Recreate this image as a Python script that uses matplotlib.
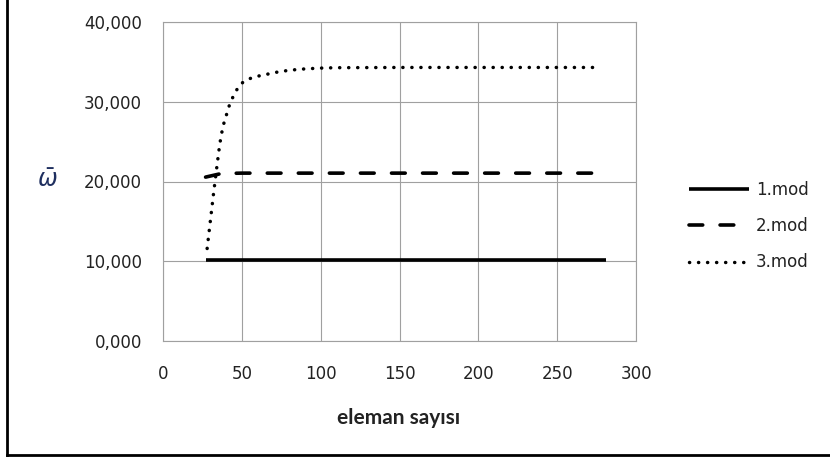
import matplotlib as mpl
import matplotlib.pyplot as plt
from matplotlib.lines import Line2D
from matplotlib.ticker import FuncFormatter

# eleman sayısı vs. normalised frequency for the first three modes
x_mod1 = [27, 50, 100, 150, 200, 250, 281]
y_mod1 = [10.15, 10.15, 10.15, 10.15, 10.15, 10.15, 10.15]

x_mod2 = [27, 37, 50, 100, 150, 200, 250, 276]
y_mod2 = [20.55, 21.0, 21.05, 21.05, 21.05, 21.05, 21.05, 21.05]

x_mod3 = [28, 30, 32, 34, 36, 38, 40, 42, 45, 48, 51, 55, 60, 66, 72, 80,
          90, 100, 110, 150, 200, 250, 276]
y_mod3 = [11.6, 15.0, 18.4, 21.6, 24.7, 26.9, 28.2, 29.5, 30.9, 31.9, 32.5,
          32.9, 33.2, 33.45, 33.7, 33.95, 34.12, 34.22, 34.27, 34.3, 34.3,
          34.3, 34.3]

labels = ["1.mod", "2.mod", "3.mod"]
x_ticks = [0, 50, 100, 150, 200, 250, 300]
y_ticks = [0, 10, 20, 30, 40]

W, H = 830, 459
GRID = "#a0a0a0"
TEXT = "#222222"

mpl.rcParams["font.family"] = "DejaVu Sans"

fig = plt.figure(figsize=(W / 100, H / 100), dpi=100)
ax = fig.add_axes([163 / W, 1 - 341 / H, (636 - 163) / W, (341 - 22) / H])

ax.plot(x_mod1, y_mod1, color="black", lw=2.6, solid_capstyle="butt", label=labels[0])
ax.plot(x_mod2, y_mod2, color="black", lw=2.6, linestyle=(0, (3.8, 4.8)),
        dash_capstyle="round", label=labels[1])
ax.plot(x_mod3, y_mod3, color="black", lw=2.5, linestyle=(0, (0.05, 2.55)),
        dash_capstyle="round", label=labels[2])

ax.set_xlim(0, 300)
ax.set_ylim(0, 40)
ax.set_xticks(x_ticks)
ax.set_yticks(y_ticks)
ax.yaxis.set_major_formatter(FuncFormatter(lambda v, _: f"{v:.3f}".replace(".", ",")))
ax.grid(True, color=GRID, lw=0.8)
ax.set_axisbelow(True)
for s in ax.spines.values():
    s.set_color(GRID)
    s.set_linewidth(0.8)
ax.tick_params(axis="both", length=0, labelsize=12, labelcolor=TEXT)
ax.tick_params(axis="y", pad=15)
ax.tick_params(axis="x", pad=17)

fig.text(399 / W, 1 - 418 / H, "eleman sayısı", ha="center", va="center",
         fontsize=15, fontweight="bold", family="Lato", color=TEXT)
fig.text(47 / W, 1 - 180 / H, r"$\bar{\omega}$", ha="center", va="center",
         fontsize=17, color="#1f2f5f")

fig.legend(loc="center left", bbox_to_anchor=(689 / W, 1 - 226 / H),
           frameon=False, fontsize=12, borderpad=0, borderaxespad=0,
           handlelength=3.6, handletextpad=0.42, labelspacing=1.1,
           labelcolor=TEXT)

# chart area frame (left and bottom edges)
fig.add_artist(Line2D([7 / W, 7 / W], [1 - 454.5 / H, 1], transform=fig.transFigure,
                      color="black", lw=2, solid_capstyle="projecting"))
fig.add_artist(Line2D([7 / W, 1], [1 - 454.5 / H, 1 - 454.5 / H], transform=fig.transFigure,
                      color="black", lw=2, solid_capstyle="projecting"))

fig.savefig("out.png", dpi=100)
